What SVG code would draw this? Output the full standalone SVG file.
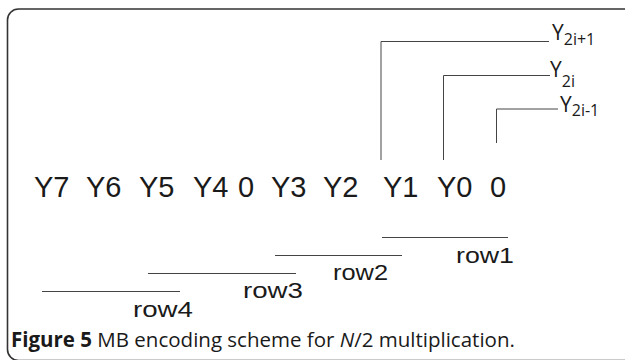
<svg xmlns="http://www.w3.org/2000/svg" width="625" height="360" viewBox="0 0 625 360">
<style>
.frame{fill:none;stroke:#333;stroke-width:1.6}
.ln{fill:none;stroke:#444;stroke-width:1}
.ylab{font-family:"Open Sans","DejaVu Sans",sans-serif;font-size:21px;fill:#1a1a1a}
.sub{font-size:16px}
.tok{font-family:"Liberation Sans",Arial,sans-serif;font-size:29px;fill:#1a1a1a}
.row{font-family:"Liberation Sans",Arial,sans-serif;font-size:22px;fill:#1a1a1a}
.cap{font-family:"Open Sans","DejaVu Sans",sans-serif;font-size:20.5px;fill:#1a1a1a}
</style>
<rect class="frame" x="7.5" y="9" width="640" height="351.5" rx="11"/>
<g id="connectors">
<polyline class="ln" points="381,160 381,41.5 549,41.5"/>
<polyline class="ln" points="443.5,160 443.5,75.5 550,75.5"/>
<polyline class="ln" points="496.5,143 496.5,109 558,109"/>
<line class="ln" x1="382" y1="237.5" x2="508" y2="237.5"/>
<line class="ln" x1="275" y1="255.5" x2="402" y2="255.5"/>
<line class="ln" x1="148" y1="273.5" x2="296" y2="273.5"/>
<line class="ln" x1="42" y1="291.5" x2="180" y2="291.5"/>
</g>
<g id="y2i1"><text class="ylab" x="552" y="40">Y<tspan class="sub" dy="5">2i+1</tspan></text></g>
<g id="y2i"><text class="ylab" x="550" y="77">Y<tspan class="sub" dy="10">2i</tspan></text></g>
<g id="y2im1"><text class="ylab" x="560" y="112">Y<tspan class="sub" dy="4">2i-1</tspan></text></g>
<g id="bits">
<text class="tok" y="197"><tspan x="34">Y7</tspan><tspan x="86">Y6</tspan><tspan x="139">Y5</tspan><tspan x="193">Y4</tspan><tspan x="238">0</tspan><tspan x="271">Y3</tspan><tspan x="323">Y2</tspan><tspan x="383">Y1</tspan><tspan x="437">Y0</tspan><tspan x="490">0</tspan></text>
</g>
<g id="row1"><text class="row" x="456" y="263" textLength="58" lengthAdjust="spacingAndGlyphs">row1</text></g>
<g id="row2"><text class="row" x="333" y="280" textLength="55" lengthAdjust="spacingAndGlyphs">row2</text></g>
<g id="row3"><text class="row" x="243" y="298" textLength="60" lengthAdjust="spacingAndGlyphs">row3</text></g>
<g id="row4"><text class="row" x="133" y="317" textLength="60" lengthAdjust="spacingAndGlyphs">row4</text></g>
<g id="caption"><text class="cap" x="11" y="347"><tspan font-weight="bold">Figure 5</tspan> MB encoding scheme for <tspan font-style="italic">N</tspan>/2 multiplication.</text></g>
</svg>
